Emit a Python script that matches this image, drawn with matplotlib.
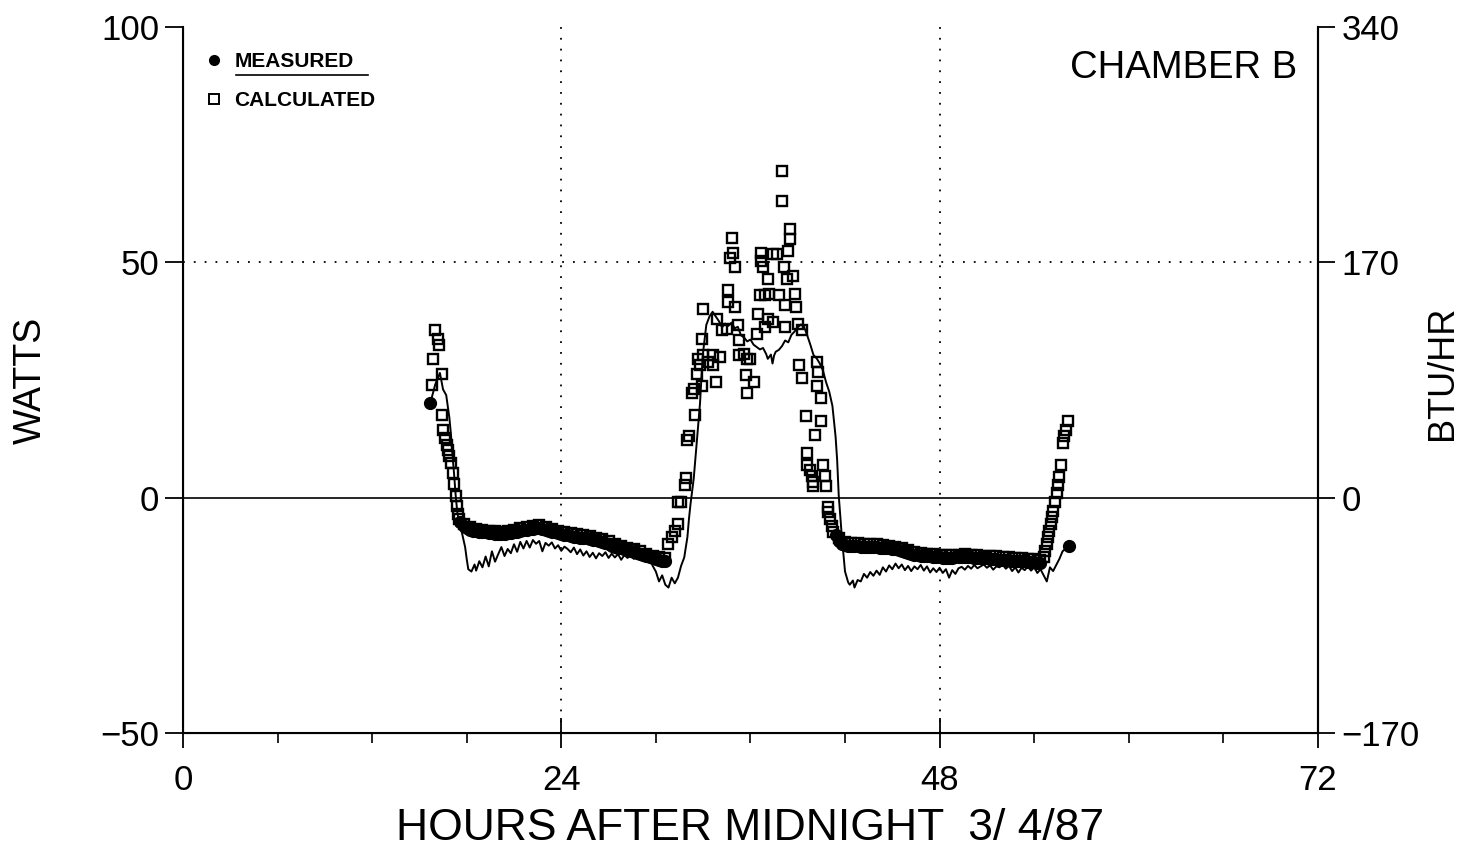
import numpy as np
import matplotlib
matplotlib.use('Agg')
import matplotlib.pyplot as plt
from matplotlib.lines import Line2D

plt.rcParams['font.family'] = ['Liberation Sans', 'DejaVu Sans']

# =====================================================
# Axis ticks / labels
# =====================================================

hour_ticks = [0, 24, 48, 72]
watt_ticks = [-50, 0, 50, 100]
btu_labels = ['\u2212170', '0', '170', '340']

# =====================================================
# Measured (filled circles)
# =====================================================

meas_start_x = [15.67]
meas_start_y = [20.2]

meas_night1_x = np.linspace(17.6, 30.6, 66)
meas_night1_y = [
    -5.2, -6.0, -6.5, -6.8, -7.0, -7.1, -7.2, -7.3, -7.4, -7.5,
    -7.6, -7.7, -7.7, -7.8, -7.7, -7.6, -7.5, -7.4, -7.2, -7.0,
    -6.9, -6.8, -6.7, -6.6, -6.5, -6.5, -6.6, -6.8, -7.0, -7.2,
    -7.4, -7.6, -7.8, -7.9, -8.0, -8.1, -8.3, -8.4, -8.5, -8.5,
    -8.6, -8.8, -9.0, -9.1, -9.2, -9.4, -9.7, -9.9, -10.2, -10.5,
    -10.7, -10.8, -11.0, -11.2, -11.4, -11.6, -11.8, -12.0, -12.2, -12.5,
    -12.7, -12.9, -13.1, -13.3, -13.4, -13.5
]

meas_night2_x = np.linspace(41.4, 54.4, 66)
meas_night2_y = [
    -8.0, -9.2, -9.8, -10.1, -10.2, -10.3, -10.3, -10.3, -10.4, -10.4,
    -10.4, -10.5, -10.5, -10.5, -10.6, -10.6, -10.7, -10.8, -10.9, -11.0,
    -11.1, -11.3, -11.6, -11.8, -12.0, -12.1, -12.2, -12.3, -12.4, -12.5,
    -12.5, -12.6, -12.7, -12.7, -12.8, -12.8, -12.8, -12.8, -12.7, -12.7,
    -12.6, -12.6, -12.7, -12.7, -12.8, -12.8, -12.9, -12.9, -12.9, -13.0,
    -13.0, -13.1, -13.2, -13.2, -13.3, -13.3, -13.4, -13.4, -13.5, -13.5,
    -13.5, -13.6, -13.7, -13.7, -13.8, -13.9
]

meas_end_x = [56.2]
meas_end_y = [-10.3]

# =====================================================
# Calculated (open squares)
# =====================================================

calc_pts_x = [
    # evening drop
    15.99, 16.18, 16.24, 15.86, 16.43, 15.80, 16.43, 16.50, 16.62, 16.75,
    16.81, 16.88, 17.00, 17.13, 17.20, 17.32, 17.39, 17.45, 17.52,
    # morning rise and day
    30.8, 31.0, 31.2, 31.4, 31.4, 31.6, 31.85, 31.9, 32.0, 32.1,
    32.5, 32.3, 32.4, 32.6, 32.9, 32.7, 32.8, 33.0, 33.3, 33.6,
    33.8, 33.6, 34.1, 32.9, 33.0, 33.9, 34.2, 34.5, 34.8, 34.7,
    34.9, 35.0, 34.6, 34.6, 35.0, 35.2, 35.3, 35.3, 35.6, 35.8,
    36.0, 35.7, 36.2, 35.8, 36.4, 36.5, 37.1, 36.9, 37.4, 36.6,
    36.9, 37.2, 37.8, 37.1, 36.7, 36.7, 36.8, 37.4, 37.7, 38.0,
    38.0, 38.5, 38.5, 38.4, 38.1, 38.3, 38.7, 38.8, 38.2, 38.9,
    38.2, 39.0, 39.3,
    # afternoon drop
    39.1, 39.3, 40.2, 40.3, 40.2, 40.5, 39.5, 40.5, 40.1, 39.6,
    39.6, 39.8, 39.9, 39.98, 40.0, 40.6, 40.7, 40.8, 40.9, 40.95,
    41.05, 41.15, 41.25,
    # second evening rise
    54.6, 54.7, 54.82, 54.89, 54.95, 55.08, 55.14, 55.2, 55.33, 55.46,
    55.52, 55.58, 55.71, 55.84, 55.9, 56.03, 56.15
]

calc_pts_y = [
    35.6, 33.7, 32.4, 29.4, 26.2, 24.0, 17.6, 14.4, 12.7, 11.2,
    10.1, 8.8, 7.3, 5.2, 3.0, 0.4, -1.7, -3.4, -4.6,
    -9.9, -8.4, -7.1, -5.6, -0.9, -0.9, 2.6, 4.1, 12.2, 13.1,
    17.6, 22.3, 23.0, 26.2, 23.8, 29.4, 28.1, 30.3, 28.8, 30.3,
    24.5, 28.1, 29.8, 33.7, 40.1, 38.0, 35.6, 35.8, 55.2, 50.9,
    51.9, 49.1, 44.2, 41.6, 40.6, 36.7, 33.5, 30.3, 30.5, 29.4,
    29.4, 26.0, 24.5, 22.3, 34.8, 39.1, 38.0, 36.3, 37.3, 43.1,
    43.1, 43.3, 43.1, 46.4, 51.9, 50.2, 49.1, 51.7, 51.7, 63.1,
    69.5, 57.1, 54.9, 52.4, 49.1, 46.4, 47.0, 43.3, 41.0, 40.6,
    36.3, 36.9, 35.6,
    28.1, 25.5, 28.8, 26.6, 23.8, 21.2, 17.4, 16.3, 13.3, 9.4,
    6.9, 5.8, 4.7, 3.4, 2.4, 6.9, 4.5, 2.4, -1.9, -3.0,
    -4.5, -6.0, -7.3,
    -12.7, -11.4, -9.9, -8.4, -7.1, -5.6, -4.1, -2.8, -0.9, 0.9,
    2.6, 4.4, 6.9, 11.6, 13.1, 14.4, 16.3
]

calc_night1_x = np.linspace(17.8, 30.6, 33)
calc_night1_y = [
    -5.6, -6.3, -6.6, -6.8, -7.0, -7.1, -7.2, -7.0, -6.8, -6.5,
    -6.2, -6.0, -5.9, -6.2, -6.6, -7.0, -7.3, -7.5, -7.8, -7.9,
    -8.2, -8.5, -8.8, -9.3, -9.9, -10.2, -10.6, -11.0, -11.4, -11.9,
    -12.3, -12.7, -12.9
]

calc_night2_x = np.linspace(41.6, 54.4, 33)
calc_night2_y = [
    -8.6, -9.5, -9.7, -9.7, -9.8, -9.9, -9.9, -10.0, -10.2, -10.4,
    -10.7, -11.2, -11.5, -11.7, -11.9, -12.0, -12.1, -12.2, -12.2, -12.1,
    -12.0, -12.1, -12.2, -12.3, -12.4, -12.5, -12.6, -12.7, -12.8, -12.9,
    -13.0, -13.1, -13.3
]

# =====================================================
# Solid trace
# =====================================================

trace_x = [
    15.7, 16.0, 16.3, 16.5, 16.7, 16.9, 17.0, 17.1, 17.2, 17.3,
    17.4, 17.5, 17.7, 17.9, 18.0, 18.1, 18.3, 18.5, 18.6, 18.8,
    19.0, 19.2, 19.4, 19.6, 19.8, 20.0, 20.2, 20.4, 20.6, 20.8,
    21.0, 21.2, 21.4, 21.6, 21.8, 22.0, 22.2, 22.4, 22.6, 22.8,
    23.0, 23.2, 23.4, 23.6, 23.8, 24.0, 24.2, 24.4, 24.6, 24.8,
    25.0, 25.2, 25.4, 25.6, 25.8, 26.0, 26.2, 26.4, 26.6, 26.8,
    27.0, 27.2, 27.4, 27.6, 27.8, 28.0, 28.2, 28.4, 28.6, 28.8,
    29.0, 29.2, 29.4, 29.6, 29.8, 30.0, 30.2, 30.4, 30.6, 30.8,
    31.0, 31.2, 31.4, 31.6, 31.8, 31.9, 32.0, 32.1, 32.2, 32.4,
    32.6, 32.8, 32.9, 33.0, 33.2, 33.4, 33.6, 33.8, 34.0, 34.2,
    34.4, 34.6, 34.8, 35.0, 35.2, 35.4, 35.6, 35.8, 36.0, 36.2,
    36.4, 36.6, 36.8, 37.0, 37.1, 37.3, 37.4, 37.5, 37.6, 37.8,
    38.0, 38.2, 38.4, 38.6, 38.8, 39.0, 39.2, 39.4, 39.6, 39.8,
    40.0, 40.2, 40.4, 40.6, 40.8, 41.0, 41.2, 41.4, 41.5, 41.6,
    41.7, 41.8, 41.9, 42.0, 42.2, 42.3, 42.5, 42.6, 42.8, 43.0,
    43.2, 43.4, 43.6, 43.8, 44.0, 44.2, 44.4, 44.6, 44.8, 45.0,
    45.2, 45.4, 45.6, 45.8, 46.0, 46.2, 46.4, 46.6, 46.8, 47.0,
    47.2, 47.4, 47.6, 47.8, 48.0, 48.2, 48.4, 48.6, 48.8, 49.0,
    49.2, 49.4, 49.6, 49.8, 50.0, 50.2, 50.4, 50.6, 50.8, 51.0,
    51.2, 51.4, 51.6, 51.8, 52.0, 52.2, 52.4, 52.6, 52.8, 53.0,
    53.2, 53.4, 53.6, 53.8, 54.0, 54.2, 54.4, 54.6, 54.8, 55.0,
    55.2, 55.4, 55.6, 55.8, 56.0, 56.2
]

trace_y = [
    20.2, 24.0, 26.5, 23.0, 21.8, 17.0, 13.5, 9.0, 5.0, 0.5,
    -3.0, -5.0, -7.5, -10.5, -13.0, -15.2, -15.7, -14.2, -15.5, -13.5,
    -14.8, -12.5, -14.6, -11.4, -13.6, -12.0, -10.5, -12.4, -10.9, -11.8,
    -9.9, -11.5, -9.4, -10.8, -9.2, -10.6, -9.0, -9.8, -9.2, -11.4,
    -9.6, -10.2, -9.5, -10.8, -10.1, -11.3, -10.4, -10.9, -11.6, -10.6,
    -12.0, -11.0, -12.3, -11.4, -12.6, -11.7, -12.9, -11.8, -12.4, -11.6,
    -12.8, -11.9, -12.7, -12.0, -13.2, -12.2, -12.8, -12.3, -13.0, -12.5,
    -12.8, -12.4, -13.1, -12.7, -14.5, -15.7, -17.8, -16.5, -18.5, -19.1,
    -17.0, -18.2, -17.0, -14.5, -12.7, -10.5, -8.4, -4.5, -1.3, 4.0,
    12.0, 20.0, 26.0, 31.0, 36.7, 38.5, 39.5, 38.5, 37.5, 36.2,
    37.0, 36.5, 37.2, 36.0, 36.3, 34.5, 34.0, 33.2, 33.6, 32.5,
    32.0, 31.5, 31.8, 30.5, 29.5, 30.4, 28.5, 30.2, 31.0, 31.4,
    32.2, 33.4, 33.0, 34.6, 35.3, 36.2, 36.8, 36.3, 34.5, 32.5,
    30.3, 29.6, 28.5, 27.0, 24.5, 22.5, 19.5, 13.0, 8.0, 0.5,
    -4.0, -8.4, -12.0, -15.7, -18.0, -18.5, -17.6, -19.1, -17.5, -17.8,
    -16.2, -17.0, -15.8, -16.6, -15.5, -16.4, -14.8, -15.7, -14.4, -15.2,
    -14.0, -15.0, -14.2, -15.4, -14.5, -15.6, -14.6, -15.2, -14.3, -15.5,
    -14.6, -15.9, -15.0, -15.8, -14.9, -16.0, -15.2, -17.0, -15.4, -16.2,
    -15.0, -14.7, -15.3, -14.5, -15.1, -14.3, -15.0, -14.6, -14.2, -14.9,
    -14.4, -15.3, -14.6, -14.8, -14.2, -15.1, -14.5, -15.6, -14.8, -15.9,
    -14.9, -15.4, -14.6, -15.5, -14.8, -16.0, -15.2, -16.5, -17.8, -14.8,
    -15.6, -14.3, -13.0, -11.4, -10.8, -10.3
]

meas_x = np.concatenate([meas_start_x, meas_night1_x, meas_night2_x, meas_end_x])
meas_y = np.concatenate([meas_start_y, meas_night1_y, meas_night2_y, meas_end_y])
calc_x = np.concatenate([calc_pts_x, calc_night1_x, calc_night2_x])
calc_y = np.concatenate([calc_pts_y, calc_night1_y, calc_night2_y])

# =====================================================
# Figure
# =====================================================

fig = plt.figure(figsize=(14.79, 8.58), dpi=100)
ax = fig.add_axes([0.1237, 0.1457, 0.7674, 0.8228])

ax.set_xlim(0, 72)
ax.set_ylim(-50, 100)

ax.axhline(0, color='black', linewidth=1.2, zorder=1)
for xv in [24, 48]:
    ax.axvline(xv, color='black', linestyle=(0, (1, 5)), linewidth=1.3, zorder=1)
ax.axhline(50, color='black', linestyle=(0, (1, 5)), linewidth=1.3, zorder=1)

ax.plot(trace_x, trace_y, color='black', linewidth=1.4, zorder=2)

ax.plot(
    calc_x, calc_y,
    linestyle='none', marker='s', markersize=7.5,
    markerfacecolor='none', markeredgecolor='black', markeredgewidth=1.7,
    zorder=3
)

ax.plot(
    meas_x, meas_y,
    linestyle='none', marker='o', markersize=8.5,
    color='black', zorder=4
)

# =====================================================
# Axes styling
# =====================================================

ax.spines['top'].set_visible(False)
for s in ['left', 'bottom', 'right']:
    ax.spines[s].set_linewidth(1.5)

ax.set_xticks(hour_ticks)
ax.set_xticks(np.arange(0, 73, 6), minor=True)
ax.set_yticks(watt_ticks)
ax.tick_params(axis='x', which='major', direction='inout', length=22,
               width=1.3, labelsize=25, pad=11)
ax.tick_params(axis='x', which='minor', direction='out', length=7, width=1.2)
ax.tick_params(axis='y', which='major', direction='out', length=13,
               width=1.3, labelsize=25, pad=4)

ax2 = ax.twinx()
ax2.set_ylim(-50, 100)
ax2.set_yticks(watt_ticks)
ax2.set_yticklabels(btu_labels)
ax2.spines['top'].set_visible(False)
ax2.spines['right'].set_linewidth(1.5)
ax2.tick_params(axis='y', direction='out', length=12, width=1.3,
                labelsize=25, pad=5)

ax.set_xlabel('HOURS AFTER MIDNIGHT  3/ 4/87', fontsize=32, labelpad=8)
ax.set_ylabel('WATTS', fontsize=27)
ax.yaxis.set_label_coords(-0.118, 0.5)
ax2.set_ylabel('BTU/HR', fontsize=26)
ax2.yaxis.set_label_coords(1.094, 0.51)

ax.text(0.982, 0.967, 'CHAMBER B', transform=ax.transAxes,
        ha='right', va='top', fontsize=27.5)

# =====================================================
# Legend
# =====================================================

handles = [
    Line2D([], [], linestyle='none', marker='o', markersize=7, color='black'),
    Line2D([], [], linestyle='none', marker='s', markersize=7,
           markerfacecolor='none', markeredgecolor='black', markeredgewidth=1.4),
]
ax.legend(
    handles, ['MEASURED', 'CALCULATED'],
    loc='upper left', bbox_to_anchor=(0.005, 0.985),
    frameon=False, handlelength=1.0, handletextpad=0.5,
    labelspacing=0.95, borderaxespad=0.3,
    prop={'size': 15, 'weight': 'bold'}
)
ax.plot([0.047, 0.163], [0.932, 0.932], transform=ax.transAxes,
        color='black', linewidth=1.2, clip_on=False)

fig.savefig('out.png', dpi=100)
